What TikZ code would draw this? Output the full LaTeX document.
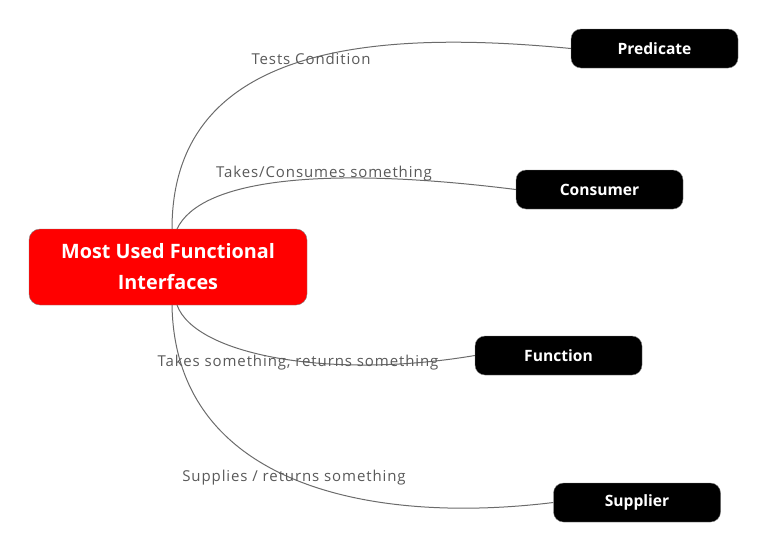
\documentclass[tikz,border=0pt]{standalone}
\usepackage{fontspec}
\setmainfont{Open Sans}
\newfontfamily\labfont[LetterSpace=6]{Open Sans}
\begin{document}
\begin{tikzpicture}[x=1pt,y=-1pt,
  leaf/.style={draw=gray, fill=black, rounded corners=10pt, minimum width=167pt, minimum height=39pt, text=white, font=\fontsize{15.6}{17}\selectfont\bfseries, inner sep=0pt},
  root/.style={draw=gray, fill=red, rounded corners=11pt, minimum width=278pt, minimum height=76pt, text=white, font=\fontsize{19.8}{31}\selectfont\bfseries, align=center, inner sep=0pt},
  edge/.style={draw=black!58, line width=1pt},
  elabel/.style={text=black!65, font=\labfont\fontsize{15}{17}\selectfont, inner sep=0pt}]
\useasboundingbox (0,0) rectangle (768,552);
\node[root] (root) at (168,267) {Most Used Functional\\Interfaces};
\node[leaf] (pred) at (654.5,48.5) {Predicate};
\node[leaf] (cons) at (599.5,189.5) {Consumer};
\node[leaf] (func) at (558.5,355.5) {Function};
\node[leaf] (supp) at (637,502.5) {Supplier};
\coordinate (r1) at (172,229);
\coordinate (r2) at (177,229);
\coordinate (r3) at (177,305);
\coordinate (r4) at (172,305);
\draw[edge] (r1) .. controls (172,42) and (380,30) .. (pred.west);
\draw[edge] (r2) .. controls (200,180) and (320,165) .. (cons.west);
\draw[edge] (r3) .. controls (195,355) and (330,380) .. (func.west);
\draw[edge] (r4) .. controls (175,485) and (370,525) .. (supp.west);
\node[elabel] (l1) at (311,58.5) {Tests Condition};
\node[elabel] (l2) at (324,173.5) {Takes/Consumes something};
\node[elabel] (l3) at (298,362.5) {Takes something, returns something};
\node[elabel] (l4) at (294,477.5) {Supplies / returns something};
\end{tikzpicture}
\end{document}
